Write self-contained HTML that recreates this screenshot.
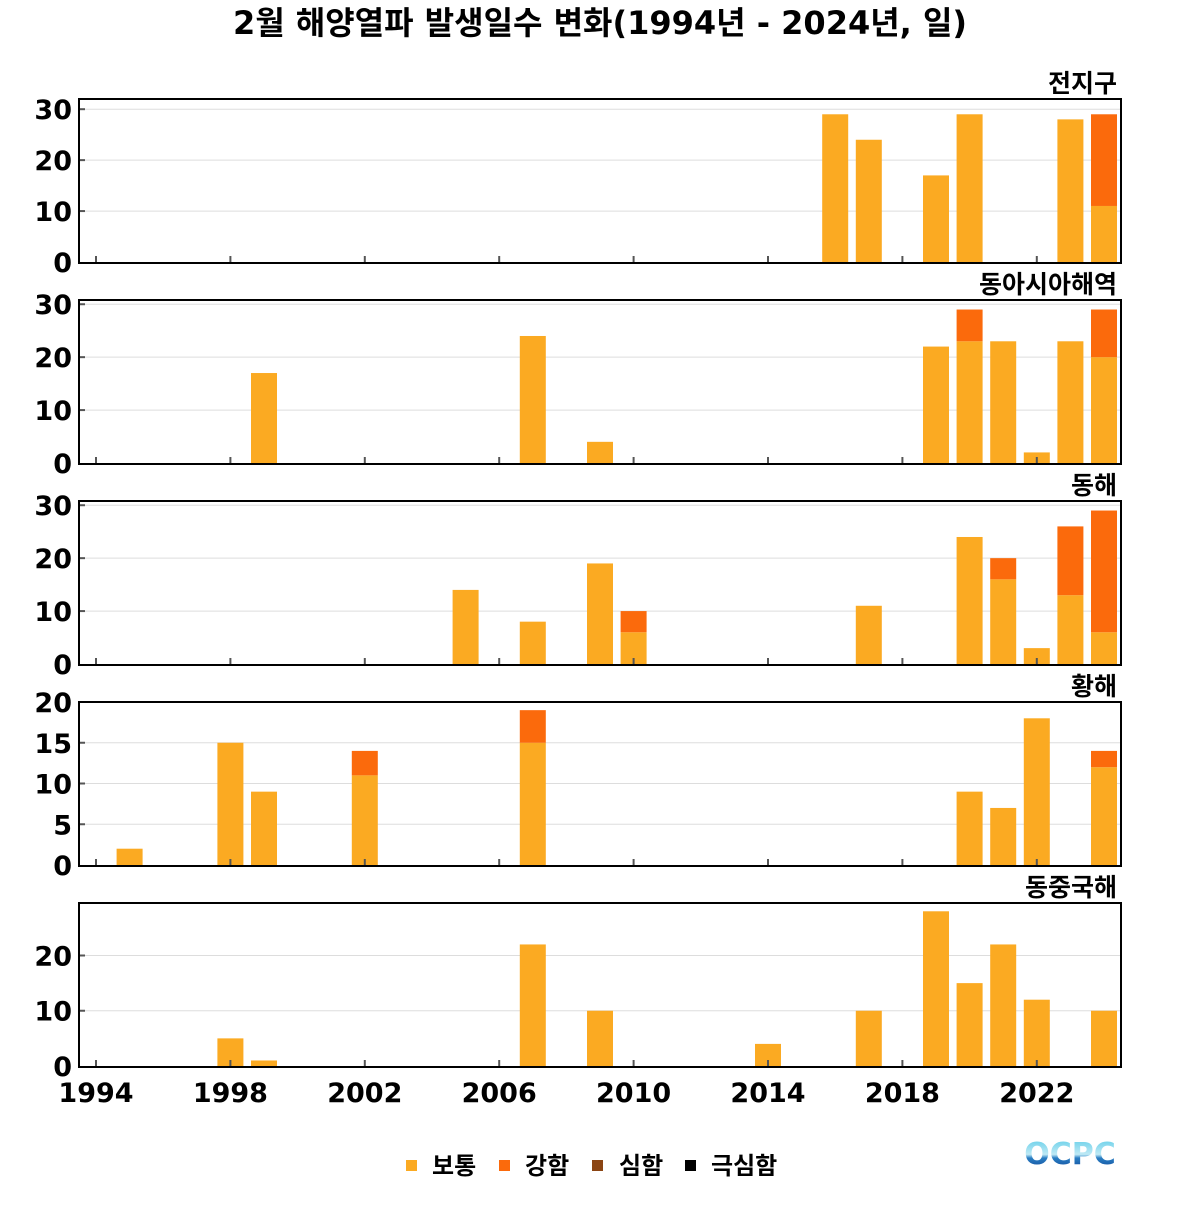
<!DOCTYPE html>
<html><head><meta charset="utf-8"><style>
html,body{margin:0;padding:0;background:#fff;}
svg text{font-family:"DejaVu Sans","Liberation Sans","Noto Sans CJK KR",sans-serif;font-weight:bold;}
</style></head><body>
<svg id="chart" width="1200" height="1200" xmlns="http://www.w3.org/2000/svg">
<text x="600" y="34" text-anchor="middle" font-size="32" font-family="'Noto Sans CJK KR',sans-serif">2월 해양열파 발생일수 변화(1994년 - 2024년, 일)</text>
<g id="panels"></g>
<g>
<rect x="406" y="1160" width="11" height="11" fill="#FBAA22"/>
<text x="432" y="1174" font-size="24" font-family="'Noto Sans CJK KR',sans-serif">보통</text>
<rect x="499" y="1160" width="11" height="11" fill="#FB6A0C"/>
<text x="525" y="1174" font-size="24" font-family="'Noto Sans CJK KR',sans-serif">강함</text>
<rect x="592" y="1160" width="11" height="11" fill="#8B4513"/>
<text x="619" y="1174" font-size="24" font-family="'Noto Sans CJK KR',sans-serif">심함</text>
<rect x="685" y="1160" width="11" height="11" fill="#000"/>
<text x="711" y="1174" font-size="24" font-family="'Noto Sans CJK KR',sans-serif">극심함</text>
</g>
<defs><linearGradient id="lg" x1="0" y1="0" x2="0" y2="1"><stop offset="0" stop-color="#5ecde8"/><stop offset="0.5" stop-color="#bfe9f5"/><stop offset="0.6" stop-color="#2a7fc4"/><stop offset="1" stop-color="#0a3d8f"/></linearGradient></defs>
<text x="1070" y="1164" text-anchor="middle" font-size="30" fill="url(#lg)">OCPC</text>
</svg>
<script>
const years = [1994,1995,1996,1997,1998,1999,2000,2001,2002,2003,2004,2005,2006,2007,2008,2009,2010,2011,2012,2013,2014,2015,2016,2017,2018,2019,2020,2021,2022,2023,2024];
const regionNames = ["전지구","동아시아해역","동해","황해","동중국해"];
const normal0 = [0,0,0,0,0,0,0,0,0,0,0,0,0,0,0,0,0,0,0,0,0,0,29,24,0,17,29,0,0,28,11];
const strong0 = [0,0,0,0,0,0,0,0,0,0,0,0,0,0,0,0,0,0,0,0,0,0,0,0,0,0,0,0,0,0,18];
const normal1 = [0,0,0,0,0,17,0,0,0,0,0,0,0,24,0,4,0,0,0,0,0,0,0,0,0,22,23,23,2,23,20];
const strong1 = [0,0,0,0,0,0,0,0,0,0,0,0,0,0,0,0,0,0,0,0,0,0,0,0,0,0,6,0,0,0,9];
const normal2 = [0,0,0,0,0,0,0,0,0,0,0,14,0,8,0,19,6,0,0,0,0,0,0,11,0,0,24,16,3,13,6];
const strong2 = [0,0,0,0,0,0,0,0,0,0,0,0,0,0,0,0,4,0,0,0,0,0,0,0,0,0,0,4,0,13,23];
const normal3 = [0,2,0,0,15,9,0,0,11,0,0,0,0,15,0,0,0,0,0,0,0,0,0,0,0,0,9,7,18,0,12];
const strong3 = [0,0,0,0,0,0,0,0,3,0,0,0,0,4,0,0,0,0,0,0,0,0,0,0,0,0,0,0,0,0,2];
const normal4 = [0,0,0,0,5,1,0,0,0,0,0,0,0,22,0,10,0,0,0,0,4,0,0,10,0,28,15,22,12,0,10];
const strong4 = [0,0,0,0,0,0,0,0,0,0,0,0,0,0,0,0,0,0,0,0,0,0,0,0,0,0,0,0,0,0,0];
const yMaxes = [32,30.8,30.8,20,29.5];
const yTicks0 = [0,10,20,30];
const yTicks1 = [0,10,20,30];
const yTicks2 = [0,10,20,30];
const yTicks3 = [0,5,10,15,20];
const yTicks4 = [0,10,20];
const xTickYears = [1994,1998,2002,2006,2010,2014,2018,2022];

const normals=[normal0,normal1,normal2,normal3,normal4];
const strongs=[strong0,strong1,strong2,strong3,strong4];
const ticksAll=[yTicks0,yTicks1,yTicks2,yTicks3,yTicks4];
const NS="http://www.w3.org/2000/svg";
const g=document.getElementById('panels');
const L=79,R=1121,W=R-L;
function xs(y){return 96+(y-1994)*(1104-96)/30;}
function mk(t,a){const e=document.createElementNS(NS,t);for(const k in a)e.setAttribute(k,a[k]);return e;}
for(let p=0;p<5;p++){
  const top=99+p*201, bot=top+164, plotBot=bot-1, plotTop=top;
  const ys=v=>plotBot-v/yMaxes[p]*(plotBot-plotTop);
  const pg=mk('g',{});
  
  
  g.appendChild(pg);
  const tt=mk('text',{x:1117,y:top-7,'text-anchor':'end','font-size':'25','font-family':"'Noto Sans CJK KR',sans-serif"});
  tt.textContent=regionNames[p];
  
  
  pg.appendChild(tt);
  ticksAll[p].forEach(v=>{
    const y=ys(v);
    if(v>0){const gl=mk('line',{x1:L,x2:R,y1:y,y2:y,stroke:'#ddd','stroke-width':1});
      
      
      pg.appendChild(gl);
      pg.appendChild(mk('line',{x1:L,x2:L+6,y1:y,y2:y,stroke:'#555','stroke-width':2}));}
    const lb=mk('text',{x:72,y:y+10,'text-anchor':'end','font-size':'27'});
    lb.textContent=v;
    
    
    pg.appendChild(lb);
  });
  years.forEach((yr,i)=>{
    const n=normals[p][i], s=strongs[p][i], x=xs(yr)-13;
    if(n>0){const r=mk('rect',{x:x,y:ys(n),width:26,height:ys(0)-ys(n),fill:'#FBAA22'});
      
      
      pg.appendChild(r);}
    if(s>0){const r=mk('rect',{x:x,y:ys(n+s),width:26,height:ys(n)-ys(n+s),fill:'#FB6A0C'});
      
      
      pg.appendChild(r);}
  });
  xTickYears.forEach(yr=>{
    pg.appendChild(mk('line',{x1:xs(yr),x2:xs(yr),y1:plotBot-6,y2:plotBot,stroke:'#555','stroke-width':2}));
    if(p===4){const lb=mk('text',{x:xs(yr),y:1102,'text-anchor':'middle','font-size':'27'});
      lb.textContent=yr;
      
      
      pg.appendChild(lb);}
  });
  const fr=mk('rect',{x:L,y:top,width:W,height:bot-top,fill:'none',stroke:'#000','stroke-width':2});
  
  
  pg.appendChild(fr);
}
</script>
</body></html>
